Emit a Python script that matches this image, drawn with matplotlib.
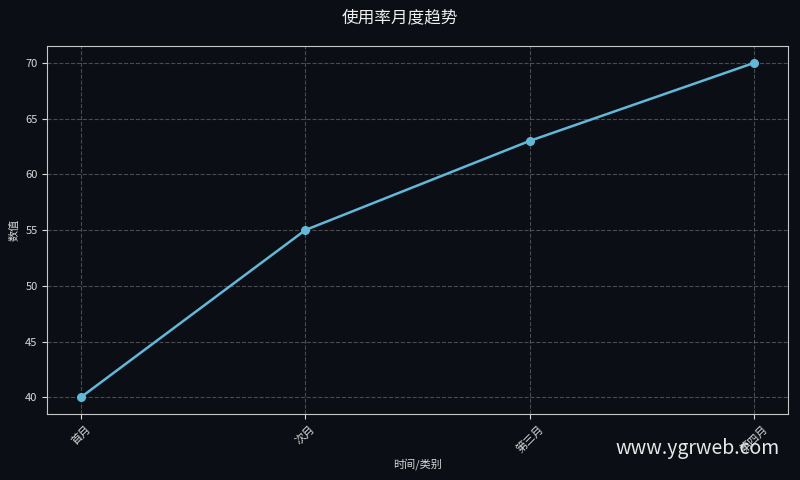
import matplotlib
matplotlib.use("Agg")
import matplotlib.pyplot as plt

plt.rcParams['font.family'] = ['Noto Sans CJK SC', 'DejaVu Sans']

categories = ['首月', '次月', '第三月', '第四月']
values = [40, 55, 63, 70]
title = '使用率月度趋势'
xlabel = '时间/类别'
ylabel = '数值'

bg = '#0b0e14'
fig = plt.figure(figsize=(8, 4.8), dpi=100, facecolor=bg)
ax = fig.add_axes([0.059, 0.1375, 0.926, 0.7665])
ax.set_facecolor(bg)

x = list(range(len(categories)))
ax.plot(x, values, color='#62b8d8', linewidth=1.8, marker='o', markersize=5.5)

ax.set_xticks(x)
ax.set_xticklabels(categories, rotation=45, ha='center', color='#d8d8d8', fontsize=8)
ax.tick_params(axis='y', colors='#d8d8d8', labelsize=8)
ax.tick_params(axis='x', colors='#d8d8d8')
ax.set_yticks([40, 45, 50, 55, 60, 65, 70])
ax.margins(x=0.05, y=0.05)

ax.grid(True, color='#888888', linestyle='--', linewidth=0.8, alpha=0.5)
for s in ax.spines.values():
    s.set_color('#c8c8c8')

ax.set_xlabel(xlabel, color='#d8d8d8', fontsize=8, labelpad=2)
ax.set_ylabel(ylabel, color='#d8d8d8', fontsize=8)
fig.suptitle(title, color='#eeeeee', fontsize=12, y=0.9625, va='center')

fig.text(0.975, 0.065, 'www.ygrweb.com', color='#e8e8e8', fontsize=14, ha='right', va='center')

fig.savefig('out.png', dpi=100, facecolor=bg)
